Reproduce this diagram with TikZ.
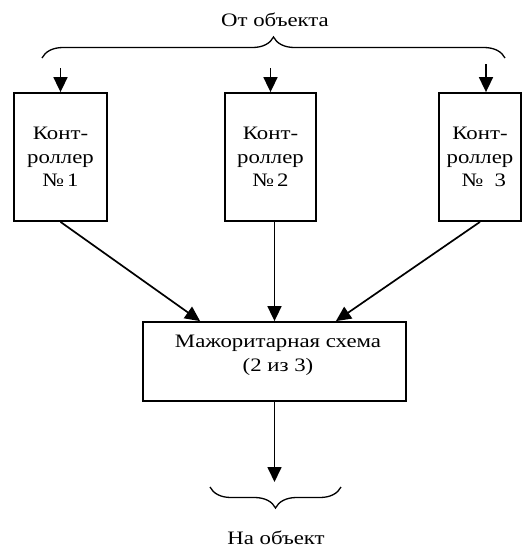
\documentclass[tikz,border=0pt]{standalone}
\usepackage{fontspec}
\setmainfont{Liberation Serif}[FakeStretch=1.2]
\usetikzlibrary{arrows.meta,decorations.pathreplacing}
\begin{document}
\begin{tikzpicture}[x=1pt,y=-1pt,
  box/.style={draw,line width=1.8pt,inner sep=0pt,align=center,
    font=\fontsize{19}{23.5}\selectfont},
  lbl/.style={font=\fontsize{19}{24}\selectfont,align=center,inner sep=0pt},
  arr/.style={line width=1.7pt,-{Triangle[length=15pt,width=14pt]}},
  brc/.style={decorate,decoration={brace,amplitude=21pt},line width=1.3pt}]
\useasboundingbox (0,0) rectangle (527,550);
% top label and brace
\node[lbl] (from) at (275,20) {От объекта};
\coordinate (bl) at (42,58);
\coordinate (br) at (505,58);
\draw[brc] (bl) -- (br);
% controllers
\node[box,minimum width=93pt,minimum height=128pt] (k1) at (60.5,157) {Конт-\\роллер\\№\,1};
\node[box,minimum width=91pt,minimum height=128pt] (k2) at (270.5,157) {Конт-\\роллер\\№\,2};
\node[box,minimum width=82pt,minimum height=128pt] (k3) at (480,157) {Конт-\\роллер\\\hspace*{0.4em}№~~3};
% inputs
\coordinate (a1) at (60.5,68);
\coordinate (a2) at (270.5,68);
\coordinate (a3) at (486,64);
\draw[arr] (a1) -- (k1.north);
\draw[arr] (a2) -- (k2.north);
\draw[arr] (a3) -- (a3 |- k3.north);
% majority block
\node[draw,line width=1.8pt,minimum width=263pt,minimum height=79pt,inner sep=0pt] (m) at (274.5,361.5) {};
\node[lbl] (mt) at (278,355) {Мажоритарная схема\\(2 из 3)};
\draw[arr] (k1.south) -- ([xshift=58pt]m.north west);
\draw[arr] (k2.south -| m.north) -- (m.north);
\draw[arr] (k3.south) -- ([xshift=-71pt]m.north east);
% output
\coordinate (bt) at (274.5,482);
\draw[arr] (m.south) -- (bt);
\coordinate (cl) at (210,487);
\coordinate (cr) at (341,487);
\draw[brc,decoration={mirror}] (cl) -- (cr);
\node[lbl] (to) at (276,538) {На объект};
\end{tikzpicture}
\end{document}
